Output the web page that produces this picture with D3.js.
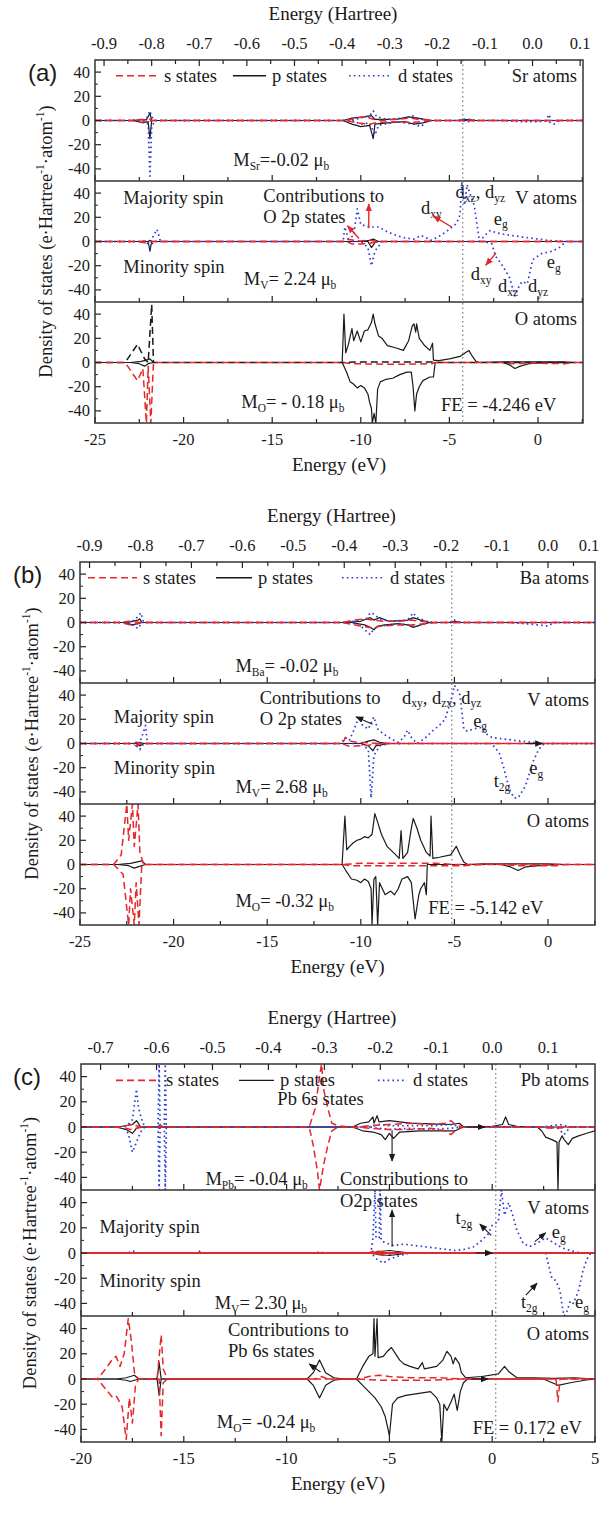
<!DOCTYPE html>
<html>
<head>
<meta charset="utf-8">
<script src="https://cdn.jsdelivr.net/npm/d3@7"></script>
<style>
  body { margin: 0; background: #fff; }
  svg, svg text { font-family: "Liberation Serif", "Times New Roman", "DejaVu Serif", serif; }
  svg text { fill: #1a1a1a; }
</style>
</head>
<body>
<svg id="chart" width="602" height="1517" font-family="Liberation Serif, Times New Roman, serif"></svg>
<script>
const HA = 27.2114; // eV per Hartree

// tick values
const evTicksAB = [-25, -20, -15, -10, -5, 0];
const evTicksC = [-20, -15, -10, -5, 0, 5];
const haTicksAB = [-0.9, -0.8, -0.7, -0.6, -0.5, -0.4, -0.3, -0.2, -0.1, 0.0, 0.1];
const haTicksC = [-0.7, -0.6, -0.5, -0.4, -0.3, -0.2, -0.1, 0.0, 0.1];
const dosTicks = [-40, -20, 0, 20, 40];

// ---------- (a) SrVO3 : [energy (eV), DOS] ----------
const aSrSUp = [[-23,0],[-22.6,1],[-22.2,0.5],[-22,2],[-21.8,0],[-10.8,0],[-10.3,2],[-9.7,3],[-9.3,1],[-8.8,0],[-8,1],[-7.2,2],[-6.8,1],[-6,0]];
const aSrSDn = [[-23,0],[-22.4,-1.5],[-22,-1],[-21.8,0],[-10.8,0],[-10.2,-2],[-9.5,-3],[-9,-1.5],[-8,-1],[-7,-1.5],[-6,0]];
const aSrPUp = [[-22.8,0],[-22.4,1],[-22.1,0.5],[-21.9,6],[-21.8,0],[-11,0],[-10.5,2],[-9.8,3],[-9.4,4],[-9.2,1],[-8,1],[-7.3,3],[-6.8,2],[-6,0],[-4.5,0],[-4.2,1],[-3.8,0.5],[-3.5,0]];
const aSrPDn = [[-22.8,0],[-22.3,-2],[-22,-1],[-21.9,-15],[-21.8,0],[-11,0],[-10.5,-3],[-10,-5],[-9.5,-4],[-9.3,-15],[-9.2,-3],[-8.5,-2],[-7.5,-1],[-7,-3],[-6.5,-2],[-6,0]];
const aSrDUp = [[-22.5,0],[-22.1,1],[-21.9,8],[-21.8,3],[-21.6,0],[-11,0],[-10.3,1],[-9.5,4],[-9.3,8],[-9.1,3],[-8.5,1],[-7.5,2],[-7,4],[-6.8,2],[-6.2,0],[-4.4,0],[-4.2,1],[-3.9,1],[-3.5,0],[0.5,0],[0.6,5],[0.8,0]];
const aSrDDn = [[-22.3,0],[-22,-3],[-21.9,-46],[-21.8,-5],[-21.6,0],[-10.5,0],[-10,-3],[-9.5,-2],[-9.2,-12],[-9,-4],[-8,-1],[-7,-3],[-6.6,-5],[-6.2,0],[-4.3,0],[-4,-1],[-3.5,0],[-2,0],[-1,-1],[0,-1],[0.5,-0.5],[0.9,-3],[1.2,0]];

const aVSUp = [[-22.6,0],[-22.2,0.5],[-21.9,0],[-11,0],[-10.8,2],[-10.4,1],[-10,0.5],[-9.5,1],[-9,0]];
const aVSDn = [[-22.6,0],[-22.2,-1],[-21.9,0],[-10.8,0],[-10.5,-2],[-10,-2],[-9.5,-1.5],[-9,0]];
const aVPUp = [[-22,0],[-21.9,1],[-21.8,0],[-10,0],[-9.5,1],[-9.3,2],[-9,0]];
const aVPDn = [[-22,0],[-21.9,-8],[-21.8,0],[-9.6,0],[-9.4,-5],[-9.2,-1],[-9,0]];
const aVDUp = [[-22.2,0],[-21.9,-2],[-21.7,5],[-21.5,10],[-21.3,0],[-11,0],[-10.9,12],[-10.7,2],[-10.4,5],[-10.2,27],[-10.0,14],[-9.5,12],[-9.0,12],[-8.5,8],[-8.0,5],[-7.5,3],[-7.0,2],[-6.6,5],[-6.3,3],[-6.0,1],[-5.5,5],[-5.0,10],[-4.6,15],[-4.4,22],[-4.3,48],[-4.15,30],[-4.0,47],[-3.8,38],[-3.6,30],[-3.4,10],[-3.3,0],[-3.0,5],[-2.7,9],[-2.3,7],[-1.5,5],[-0.5,3],[0.5,1],[1.5,0]];
const aVDDn = [[-22.1,0],[-21.9,-5],[-21.7,0],[-10,0],[-9.6,-5],[-9.4,-20],[-9.2,-8],[-8.8,0],[-3,0],[-2.6,-2],[-2.4,-12],[-2.0,-20],[-1.6,-30],[-1.3,-45],[-1.1,-38],[-0.9,-33],[-0.6,-35],[-0.3,-15],[0.2,-10],[0.8,-8],[1.2,-5],[1.6,0]];

const aOSUp = [[-23.3,0],[-22.6,15],[-22.2,3],[-22.0,0],[-21.8,48],[-21.7,0],[-11,0],[-10,0.5],[-6,0.5],[-5.8,0]];
const aOSDn = [[-23.3,0],[-22.6,-15],[-22.3,-5],[-22.1,-50],[-22.0,-3],[-21.85,-50],[-21.7,0],[-11,0],[-10.5,-1],[-8,-1.5],[-6,-1],[-5.8,0],[-2,0],[-1.5,-1],[-0.5,-0.5],[1.5,-1],[2,0]];
const aOPUp = [[-23,0],[-22.4,1],[-22.1,2],[-21.9,3],[-21.7,0],[-11.05,0],[-10.95,40],[-10.85,8],[-10.7,15],[-10.5,28],[-10.4,18],[-10.2,26],[-10.0,17],[-9.8,26],[-9.6,27],[-9.4,33],[-9.3,40],[-9.2,32],[-9.0,22],[-8.8,20],[-8.5,14],[-8.0,12],[-7.6,10],[-7.3,18],[-7.1,30],[-7.0,32],[-6.9,25],[-6.85,32],[-6.7,20],[-6.4,14],[-6.1,10],[-5.95,16],[-5.9,2],[-5.6,1.5],[-5.0,3],[-4.4,5],[-4.1,8],[-3.9,10],[-3.7,5],[-3.5,1],[-3.3,0],[-2,0.5],[0,0.5],[1.5,0.5],[2,0]];
const aOPDn = [[-23,0],[-22.5,-1],[-22.2,-3],[-22,-1],[-21.7,0],[-11.05,0],[-10.8,-8],[-10.6,-16],[-10.4,-18],[-10.2,-21],[-10.0,-19],[-9.8,-21],[-9.6,-26],[-9.5,-33],[-9.4,-38],[-9.35,-50],[-9.25,-42],[-9.15,-50],[-9.05,-22],[-8.9,-16],[-8.6,-14],[-8.2,-13],[-7.8,-10],[-7.4,-8],[-7.15,-8],[-7.05,-20],[-6.95,-40],[-6.85,-26],[-6.7,-20],[-6.5,-15],[-6.1,-12],[-5.9,-12],[-5.8,0],[-2,0],[-1.6,-2],[-1.3,-5],[-1.0,-3],[-0.5,-1],[0.5,0]];

// ---------- (b) BaVO3 ----------
const bBaSUp = [[-22.8,0],[-22.4,1],[-22.1,0.5],[-21.8,0],[-11,0],[-10.4,2],[-9.8,3],[-9.3,2],[-8.8,1],[-8,1],[-7.3,2],[-6.8,1],[-6.2,0]];
const bBaSDn = [[-22.8,0],[-22.3,-2],[-22.0,-1],[-21.8,0],[-11,0],[-10.3,-2],[-9.6,-4],[-9.3,-5],[-9,-3],[-8,-2],[-7.3,-2],[-6.5,-1],[-6,0]];
const bBaPUp = [[-22.6,0],[-22.2,1],[-21.9,2],[-21.8,3],[-21.7,0],[-11,0],[-10,1],[-9.5,4],[-9.3,2],[-9.0,4],[-8.5,1],[-7.5,2],[-7.2,4],[-6.8,2],[-6.3,0],[-5.3,0],[-5.0,1],[-4.6,0]];
const bBaPDn = [[-22.6,0],[-22.2,-2],[-21.9,-1],[-21.7,0],[-10.5,0],[-9.8,-2],[-9.5,-4],[-9.3,-6],[-9.1,-3],[-8.7,-2],[-8,-1],[-7.5,-2],[-7.2,-4],[-6.8,-2],[-6.3,0]];
const bBaDUp = [[-22.4,0],[-22.1,2],[-21.9,5],[-21.75,8],[-21.6,0],[-11,0],[-10.3,1],[-9.7,3],[-9.5,8],[-9.3,7],[-9.0,3],[-8.5,1],[-7.5,2],[-7.2,8],[-7.0,4],[-6.5,1],[-6,0],[-5.2,0],[-5,2],[-4.7,0]];
const bBaDDn = [[-22.4,0],[-22.1,-3],[-21.9,-5],[-21.7,0],[-10.5,0],[-10,-3],[-9.5,-10],[-9.3,-5],[-9,-3],[-8,-1],[-7,-3],[-6.5,0],[-2,0],[-1.2,-1],[-0.5,-2],[0,-3],[0.3,0]];

const bVSUp = [[-22.3,0],[-22.0,1],[-21.7,0],[-11,0],[-10.8,5],[-10.6,2],[-10.2,1],[-9.6,0.5],[-9,0]];
const bVSDn = [[-22.3,0],[-22.0,-2],[-21.7,0],[-11,0],[-10.7,-2],[-10.3,-2],[-9.6,-1.5],[-9,0]];
const bVPUp = [[-22,0],[-21.8,1],[-21.6,0],[-10,0],[-9.6,2],[-9.3,3],[-9.0,1],[-8.5,0]];
const bVPDn = [[-22,0],[-21.8,-2],[-21.6,0],[-10,0],[-9.6,-2],[-9.35,-6],[-9.2,-2],[-8.5,0]];
const bVDUp = [[-22.1,0],[-21.8,1],[-21.6,10],[-21.5,15],[-21.4,0],[-11,0],[-10.9,5],[-10.6,3],[-10.4,10],[-10.1,22],[-9.9,15],[-9.6,12],[-9.3,22],[-9.1,12],[-8.8,8],[-8.4,4],[-8.0,1],[-7.7,5],[-7.5,11],[-7.3,5],[-7.0,0],[-6.6,4],[-6.2,10],[-5.8,15],[-5.5,20],[-5.3,30],[-5.1,40],[-5.0,48],[-4.85,45],[-4.7,40],[-4.5,12],[-4.3,10],[-4.0,12],[-3.6,13],[-3.3,8],[-3.0,5],[-2.5,4],[-1.5,2],[-0.8,1],[-0.5,0]];
const bVDDn = [[-22.1,0],[-21.8,-5],[-21.6,0],[-10,0],[-9.6,-5],[-9.45,-45],[-9.3,-10],[-9.0,-2],[-8.5,0],[-3,0],[-2.6,-8],[-2.4,-18],[-2.2,-30],[-2.0,-40],[-1.8,-45],[-1.6,-45],[-1.4,-40],[-1.2,-35],[-1.0,-25],[-0.8,-15],[-0.5,-5],[-0.2,0]];

const bOSUp = [[-23.2,0],[-22.8,8],[-22.5,50],[-22.4,20],[-22.2,50],[-22.1,15],[-21.9,50],[-21.8,10],[-21.6,0],[-11,0],[-10,1],[-6,1],[-5,0]];
const bOSDn = [[-23.2,0],[-22.7,-8],[-22.4,-50],[-22.3,-20],[-22.1,-50],[-22.0,-15],[-21.85,-50],[-21.7,0],[-11,0],[-10.5,-1],[-8,-1],[-6,-1],[-4.5,-1],[-3,0.5],[-1.5,-1],[0.5,-1],[1,0]];
const bOPUp = [[-23,0],[-22.3,1],[-22.0,2],[-21.7,3],[-21.5,0],[-11.0,0],[-10.85,40],[-10.75,12],[-10.6,15],[-10.4,18],[-10.2,20],[-10.0,21],[-9.8,23],[-9.6,22],[-9.4,25],[-9.25,42],[-9.1,35],[-8.9,25],[-8.6,15],[-8.2,9],[-7.95,5],[-7.85,28],[-7.75,5],[-7.5,10],[-7.3,30],[-7.2,38],[-7.0,30],[-6.8,20],[-6.5,10],[-6.3,7],[-6.25,40],[-6.15,5],[-5.8,6],[-5.2,8],[-4.9,15],[-4.7,8],[-4.5,2],[-4.3,0],[-3.5,0.5],[-2,0.5],[0,0.5],[1,0]];
const bOPDn = [[-23,0],[-22.4,-1],[-22.1,-3],[-21.9,-2],[-21.5,0],[-11.0,0],[-10.8,-5],[-10.5,-12],[-10.2,-13],[-10.0,-15],[-9.8,-12],[-9.6,-14],[-9.45,-20],[-9.4,-50],[-9.3,-12],[-9.2,-10],[-9.1,-50],[-9.0,-15],[-8.7,-25],[-8.4,-22],[-8.2,-25],[-8.0,-20],[-7.8,-12],[-7.5,-10],[-7.3,-15],[-7.1,-45],[-6.9,-25],[-6.8,-20],[-6.6,-15],[-6.5,-25],[-6.45,0],[-2.5,0],[-2,-2],[-1.6,-5],[-1.2,-2],[-0.5,-1],[0.5,0]];

// ---------- (c) PbVO3 ----------
const cPbSUp = [[-18,0],[-17.6,2],[-17.3,1],[-17,0],[-16.2,0],[-16.1,1],[-16.0,0],[-8.9,0],[-8.6,15],[-8.4,40],[-8.3,50],[-8.2,30],[-8.0,15],[-7.8,3],[-7.5,1],[-7,0],[-6.5,0],[-6,1],[-5,2],[-4,3],[-3,2],[-2.3,3],[-2,5],[-1.8,2],[-1.5,0]];
const cPbSDn = [[-18,0],[-17.6,-2],[-17.3,-1],[-17,0],[-8.9,0],[-8.7,-15],[-8.5,-35],[-8.4,-50],[-8.2,-30],[-8.0,-15],[-7.8,-3],[-7.5,0],[-6.5,0],[-6,-1],[-5,-2],[-4,-2],[-3,-1],[-2.3,-3],[-2,-6],[-1.8,-3],[-1.5,0],[2,0],[3,-1],[4,0]];
const cPbPUp = [[-18.3,0],[-17.8,1],[-17.5,2],[-17.3,5],[-17.1,0],[-16.3,0],[-16.2,1],[-16.1,0],[-6.8,0],[-6.4,3],[-6.0,4],[-5.8,8],[-5.75,3],[-5.6,9],[-5.5,4],[-5.0,5],[-4.5,4],[-4,3],[-3,2.5],[-2,2],[-1.6,3],[-1.4,0],[0,0.5],[0.5,2],[0.65,8],[0.8,2],[1.2,0.5],[2,0]];
const cPbPDn = [[-18.3,0],[-17.8,-2],[-17.5,-5],[-17.3,-1],[-17.1,0],[-16.3,0],[-16.2,-1],[-16.1,0],[-6.8,0],[-6.3,-3],[-5.8,-4],[-5.4,-6],[-5.2,-10],[-5.0,-5],[-4.8,-9],[-4.5,-4],[-3.5,-3],[-2.5,-3],[-1.8,-3],[-1.4,0],[2.2,0],[2.4,-3],[2.6,-8],[2.9,-10],[3.15,-12],[3.2,-50],[3.25,-12],[3.4,-7],[3.5,-10],[3.7,-14],[3.9,-9],[4.2,-7],[4.6,-5],[5,-3]];
const cPbDUp = [[-18,0],[-17.7,2],[-17.5,6],[-17.3,30],[-17.2,15],[-17.0,3],[-16.8,0],[-16.25,0],[-16.2,50],[-16.15,0],[-15.95,0],[-15.9,50],[-15.85,0],[-6,0],[-5.5,2],[-5,1],[-3,1],[-2,2],[-1.5,0],[2.5,0],[3.3,2],[3.8,0]];
const cPbDDn = [[-18,0],[-17.7,-5],[-17.5,-20],[-17.3,-12],[-17.1,-4],[-16.9,0],[-16.25,0],[-16.2,-50],[-16.15,0],[-15.95,0],[-15.9,-50],[-15.85,0],[-6,0],[-5.5,-1],[-5,-2],[-4,-1],[-3,-2],[-2,-1],[-1.5,0],[2.5,0],[3.2,-1],[3.5,-6],[3.8,0]];

const cVSUp = [[-6,0],[-5.7,2],[-5.4,1],[-5,0]];
const cVSDn = [[-6,0],[-5.6,-1],[-5.2,-2],[-4.8,0]];
const cVPUp = [[-6,0],[-5.6,1],[-5,2],[-4.5,1],[-4,0]];
const cVPDn = [[-6,0],[-5.6,-1],[-5,-2],[-4.5,-1],[-4,0]];
const cVDUp = [[-17.7,0],[-17.5,2],[-17.3,0],[-14.3,0],[-14.2,2],[-14.1,0],[-8.6,0],[-8.4,1],[-8.2,0],[-5.9,0],[-5.8,12],[-5.7,50],[-5.65,12],[-5.5,12],[-5.45,50],[-5.4,10],[-5.2,8],[-4.8,6],[-4.3,7],[-3.8,6],[-3.3,5],[-2.8,4],[-2.3,3],[-1.8,2],[-1.3,3],[-0.9,5],[-0.5,10],[-0.2,15],[0.0,22],[0.3,25],[0.45,50],[0.6,30],[0.8,40],[1.0,30],[1.2,18],[1.5,8],[1.8,5],[2.2,8],[2.6,12],[3.0,8],[3.4,4],[3.8,2],[4.3,0]];
const cVDDn = [[-5.9,0],[-5.6,-5],[-5.3,-8],[-5.0,-5],[-4.5,-2],[-4,0],[2.6,0],[2.75,-10],[2.9,-20],[3.1,-22],[3.3,-30],[3.4,-42],[3.5,-50],[3.6,-48],[3.8,-38],[3.95,-40],[4.2,-30],[4.4,-15],[4.6,-5],[4.8,0]];

const cOSUp = [[-19.2,0],[-18.8,8],[-18.5,15],[-18.3,18],[-18.1,10],[-17.9,20],[-17.7,48],[-17.55,30],[-17.4,5],[-17.2,0],[-16.3,0],[-16.1,35],[-16.0,8],[-15.8,0],[-8.6,0],[-8.3,2],[-8,0],[-6.5,0],[-6,2],[-5.5,3],[-5,2],[-4,1],[-2.5,1],[-1.5,0]];
const cOSDn = [[-19.2,0],[-18.8,-8],[-18.5,-14],[-18.3,-13],[-18.0,-22],[-17.8,-48],[-17.65,-15],[-17.5,-35],[-17.35,-5],[-17.2,0],[-16.2,0],[-16.1,-45],[-16.0,-3],[-15.8,0],[-6.5,0],[-5.5,-1],[-3,-1],[-1.5,0],[3.1,0],[3.2,-18],[3.3,0]];
const cOPUp = [[-18.3,0],[-17.8,1],[-17.6,2],[-17.4,3],[-17.2,0],[-16.3,0],[-16.2,13],[-16.1,0],[-9,0],[-8.7,5],[-8.4,15],[-8.1,5],[-7.7,1],[-7.2,0],[-6.6,0],[-6.3,10],[-6.0,18],[-5.8,20],[-5.75,48],[-5.7,18],[-5.6,48],[-5.55,17],[-5.3,18],[-5.1,22],[-4.9,25],[-4.7,20],[-4.5,15],[-4.3,12],[-4.0,10],[-3.6,8],[-3.4,13],[-3.3,8],[-3.0,9],[-2.7,10],[-2.4,15],[-2.2,22],[-2.0,18],[-1.9,12],[-1.8,17],[-1.6,12],[-1.5,5],[-1.3,1],[-0.5,2],[0.3,4],[0.6,10],[0.8,6],[1.2,1],[2,1],[3,0.5],[4,1],[5,0]];
const cOPDn = [[-18.3,0],[-17.8,-1],[-17.6,-2],[-17.4,-1],[-17.2,0],[-16.3,0],[-16.2,-13],[-16.1,0],[-9,0],[-8.7,-5],[-8.4,-15],[-8.1,-5],[-7.7,-1],[-7.2,0],[-6.6,0],[-6.3,-5],[-6.0,-10],[-5.7,-15],[-5.4,-22],[-5.2,-30],[-5.0,-45],[-4.85,-20],[-4.6,-15],[-4.2,-13],[-3.8,-12],[-3.4,-11],[-3.0,-10],[-2.7,-15],[-2.55,-20],[-2.45,-50],[-2.35,-20],[-2.2,-25],[-2.0,-18],[-1.85,-12],[-1.7,-25],[-1.55,-10],[-1.4,-3],[-1.2,0],[2.5,0],[3.2,-5],[3.8,-3],[4.5,-1],[5,0]];

// ---------- layout ----------
const COLORS = { s: "#e5262b", p: "#1a1a1a", d: "#2b3bd8", red: "#e5262b" };
const SERIF = "'Liberation Serif', 'Times New Roman', 'DejaVu Serif', serif";
const FS = 18.5; // annotation font size

const panels = [
  {
    tag: "(a)", tagX: 28, ylabX: 52,
    left: 95, right: 583, top: 60, subH: 121,
    eV: [-25, 2.54], ha: [-0.919, 0.106], evTicks: evTicksAB, haTicks: haTicksAB,
    fe: -4.246, legendX: [116, 164, 233, 272, 349, 398], legendDos: 37,
    subs: [
      { atom: "Sr atoms", s: [aSrSUp, aSrSDn], p: [aSrPUp, aSrPDn], d: [aSrDUp, aSrDDn],
        texts: [["M_{Sr}=-0.02  μ_{b}", -17.2, -33]] },
      { atom: "V atoms", s: [aVSUp, aVSDn], p: [aVPUp, aVPDn], d: [aVDUp, aVDDn],
        texts: [["Majority spin", -23.4, 36], ["Contributions to", -15.5, 38], ["O 2p states", -15.5, 20],
                ["d_{xy}", -6.6, 28], ["d_{xz}, d_{yz}", -4.65, 41], ["e_{g}", -2.5, 19],
                ["Minority spin", -23.4, -21], ["M_{V}= 2.24  μ_{b}", -16.6, -31],
                ["d_{xy}", -3.8, -27], ["d_{xz}", -2.25, -37], ["d_{yz}", -0.56, -37], ["e_{g}", 0.5, -17]],
        arrows: [["red", -10.1, 2.5, -10.75, 13], ["red", -9.55, 11, -9.55, 31], ["red", -4.87, 12, -5.9, 21], ["red", -2.37, -9.7, -2.95, -19.5]] },
      { atom: "O atoms", s: [aOSUp, aOSDn], p: [aOPUp, aOPDn], d: null, sUpColor: "#1a1a1a",
        texts: [["M_{O}= - 0.18  μ_{b}", -16.75, -33], ["FE = -4.246  eV", -5.47, -35]] }
    ]
  },
  {
    tag: "(b)", tagX: 13, ylabX: 38,
    left: 80, right: 595, top: 562, subH: 121,
    eV: [-25, 2.51], ha: null, evTicks: evTicksAB, haTicks: haTicksAB,
    fe: -5.142, legendX: [88, 143, 216, 258, 342, 390], legendDos: 37,
    subs: [
      { atom: "Ba atoms", s: [bBaSUp, bBaSDn], p: [bBaPUp, bBaPDn], d: [bBaDUp, bBaDDn],
        texts: [["M_{Ba}= -0.02  μ_{b}", -16.7, -36]] },
      { atom: "V atoms", s: [bVSUp, bVSDn], p: [bVPUp, bVPDn], d: [bVDUp, bVDDn],
        texts: [["Contributions to", -15.4, 38], ["O 2p states", -15.4, 20], ["d_{xy}, d_{zx}, d_{yz}", -7.8, 38],
                ["Majority spin", -23.2, 22], ["e_{g}", -4.0, 19], ["Minority spin", -23.2, -20],
                ["M_{V}=  2.68  μ_{b}", -16.7, -36], ["e_{g}", -1.0, -20], ["t_{2g}", -2.9, -31]],
        arrows: [["black", -9.37, 16, -10.25, 22], ["black", -1.2, 0, -0.3, 0]] },
      { atom: "O atoms", s: [bOSUp, bOSDn], p: [bOPUp, bOPDn], d: null,
        texts: [["M_{O}= -0.32  μ_{b}", -16.7, -30], ["FE = -5.142 eV", -6.4, -36]] }
    ]
  },
  {
    tag: "(c)", tagX: 13, ylabX: 36,
    left: 81, right: 595, top: 1064, subH: 126,
    eV: [-20, 5], ha: null, evTicks: evTicksC, haTicks: haTicksC,
    fe: 0.172, legendX: [116, 166, 239, 280, 378, 413], legendDos: 37,
    subs: [
      { atom: "Pb atoms", s: [cPbSUp, cPbSDn], p: [cPbPUp, cPbPDn], d: [cPbDUp, cPbDDn],
        texts: [["Pb 6s states", -10.45, 22], ["M_{Pb}= -0.04  μ_{b}", -13.95, -41], ["Constributions to", -7.4, -41]],
        arrows: [["black", -4.87, -2.5, -4.87, -27], ["black", -1.2, 0, -0.35, 0]] },
      { atom: "V atoms", s: [cVSUp, cVSDn], p: [cVPUp, cVPDn], d: [cVDUp, cVDDn], redBase: true,
        texts: [["O2p states", -7.4, 41], ["Majority spin", -19.1, 21], ["t_{2g}", -1.78, 28], ["e_{g}", 2.9, 17],
                ["Minority spin", -19.1, -22], ["M_{V}= 2.30  μ_{b}", -13.5, -40], ["t_{2g}", 1.4, -39], ["e_{g}", 4.03, -39]],
        arrows: [["black", -4.87, 5, -4.87, 34], ["black", -0.05, 14, -0.6, 23], ["black", 2.07, 9, 2.6, 16],
                 ["black", 1.64, -33.5, 2.18, -24], ["black", -0.8, 0, 0.0, 0]] },
      { atom: "O atoms", s: [cOSUp, cOSDn], p: [cOPUp, cOPDn], d: null,
        texts: [["Contributions to", -12.85, 39], ["Pb 6s states", -12.85, 22], ["M_{O}= -0.24  μ_{b}", -13.4, -34.5],
                ["FE = 0.172 eV", -0.95, -39]],
        arrows: [["black", -8.35, 5.5, -8.9, 12], ["black", -1.0, 0, -0.2, 0]] }
    ]
  }
];

const W = 602;
const svg = d3.select("#chart").style("font-family", SERIF);

// arrow heads
const defs = svg.append("defs");
[["red", COLORS.red], ["black", "#1a1a1a"]].forEach(([id, col]) => {
  defs.append("marker")
    .attr("id", "arr-" + id)
    .attr("viewBox", "0 0 10 10")
    .attr("refX", 9).attr("refY", 5)
    .attr("markerWidth", 8).attr("markerHeight", 8)
    .attr("markerUnits", "userSpaceOnUse")
    .attr("orient", "auto")
    .append("path").attr("d", "M0,1 L10,5 L0,9 Z").attr("fill", col);
});

// text with _{sub} and ^{sup}
function richText(sel, str, size) {
  const re = /([_^])\{([^}]*)\}/g;
  let last = 0, m, offset = 0;
  const add = (t, lvl) => {
    const target = lvl === 1 ? size * 0.32 : lvl === -1 ? -size * 0.42 : 0;
    sel.append("tspan")
      .attr("dy", (target - offset) || null)
      .attr("font-size", lvl ? size * 0.62 : null)
      .text(t);
    offset = target;
  };
  while ((m = re.exec(str))) {
    if (m.index > last) add(str.slice(last, m.index), 0);
    add(m[2], m[1] === "_" ? 1 : -1);
    last = re.lastIndex;
  }
  if (last < str.length) add(str.slice(last), 0);
}

// serif text helper
const label = (g, xx, yy, size) => g.append("text")
  .attr("x", xx).attr("y", yy)
  .attr("font-size", size)
  .style("font-family", SERIF);

const fmtHa = v => (Math.abs(v) < 1e-9 ? 0 : v).toFixed(1);

panels.forEach((P, pi) => {
  const g = svg.append("g");
  const x = d3.scaleLinear().domain(P.eV).range([P.left, P.right]);
  const haDom = P.ha || [P.eV[0] / HA, P.eV[1] / HA];
  const xh = d3.scaleLinear().domain(haDom).range([P.left, P.right]);
  const bottom = P.top + 3 * P.subH;

  P.subs.forEach((S, si) => {
    const y0 = P.top + si * P.subH;
    const y = d3.scaleLinear().domain([-50, 50]).range([y0 + P.subH, y0]);
    const clipId = `clip-${pi}-${si}`;
    defs.append("clipPath").attr("id", clipId)
      .append("rect").attr("x", P.left).attr("y", y0).attr("width", P.right - P.left).attr("height", P.subH);

    const line = d3.line().x(d => x(d[0])).y(d => y(d[1]));
    const pad = pts => [[P.eV[0], 0], ...pts, [P.eV[1], 0]];
    const cg = g.append("g").attr("clip-path", `url(#${clipId})`).attr("fill", "none");

    const draw = (pts, color, dash, w) => cg.append("path")
      .attr("d", line(pad(pts)))
      .attr("stroke", color).attr("stroke-width", w)
      .attr("stroke-dasharray", dash).attr("stroke-linejoin", "round");

    if (S.p) S.p.forEach(pts => draw(pts, COLORS.p, null, 1.2));
    if (S.d) S.d.forEach(pts => draw(pts, COLORS.d, "1.6,3.2", 1.7));
    if (S.s) {
      draw(S.s[0], S.sUpColor || COLORS.s, "7,4", 1.5);
      draw(S.s[1], COLORS.s, "7,4", 1.5);
    }
    if (S.redBase) {
      cg.append("line").attr("x1", P.left).attr("x2", P.right)
        .attr("y1", y(0)).attr("y2", y(0))
        .attr("stroke", COLORS.red).attr("stroke-width", 1.8);
    }

    // left ticks (inward) + labels
    dosTicks.forEach(v => {
      g.append("line").attr("x1", P.left).attr("x2", P.left + 6)
        .attr("y1", y(v)).attr("y2", y(v)).attr("stroke", "#222").attr("stroke-width", 1.2);
      label(g, P.left - 5, y(v), 16.5)
        .attr("text-anchor", "end").attr("dominant-baseline", "central").text(v);
    });
    [-30, -10, 10, 30].forEach(v => {
      g.append("line").attr("x1", P.left).attr("x2", P.left + 3)
        .attr("y1", y(v)).attr("y2", y(v)).attr("stroke", "#222").attr("stroke-width", 1);
    });

    // bottom ticks of the sub-plot (inward)
    const yb = y0 + P.subH;
    d3.range(Math.ceil(P.eV[0] / 2.5) * 2.5, P.eV[1] + 1e-6, 2.5).forEach(v => {
      const major = Math.abs(v % 5) < 1e-6;
      g.append("line").attr("x1", x(v)).attr("x2", x(v))
        .attr("y1", yb).attr("y2", yb - (major ? 6 : 4))
        .attr("stroke", "#222").attr("stroke-width", 1.2);
    });

    // atom label
    label(g, P.right - 6, y(si === 0 ? P.legendDos : 36), FS)
      .attr("text-anchor", "end").attr("dominant-baseline", "central").text(S.atom);

    // annotations
    (S.texts || []).forEach(([t, e, v]) => {
      const tx = label(g, x(e), y(v), FS).attr("dominant-baseline", "central");
      richText(tx, t, FS);
    });
    (S.arrows || []).forEach(([col, e1, v1, e2, v2]) => {
      g.append("line")
        .attr("x1", x(e1)).attr("y1", y(v1)).attr("x2", x(e2)).attr("y2", y(v2))
        .attr("stroke", col === "red" ? COLORS.red : "#1a1a1a")
        .attr("stroke-width", col === "red" ? 1.4 : 1.1)
        .attr("marker-end", `url(#arr-${col})`);
    });

    // legend in the first sub-plot
    if (si === 0) {
      const ly = y(P.legendDos);
      const L = P.legendX;
      const items = [
        [L[0], L[1], COLORS.s, "7,4", 1.6, "s states"],
        [L[2], L[3], COLORS.p, null, 1.3, "p states"],
        [L[4], L[5], COLORS.d, "1.6,3.2", 1.7, "d states"]
      ];
      items.forEach(([x1, tx, col, dash, w, name]) => {
        g.append("line").attr("x1", x1).attr("x2", tx - 6).attr("y1", ly).attr("y2", ly)
          .attr("stroke", col).attr("stroke-width", w).attr("stroke-dasharray", dash);
        label(g, tx, ly, FS).attr("dominant-baseline", "central").text(name);
      });
    }

    // divider
    if (si > 0) {
      g.append("line").attr("x1", P.left).attr("x2", P.right).attr("y1", y0).attr("y2", y0)
        .attr("stroke", "#333").attr("stroke-width", 1.5);
    }
  });

  // Fermi energy
  g.append("line").attr("x1", x(P.fe)).attr("x2", x(P.fe)).attr("y1", P.top).attr("y2", bottom)
    .attr("stroke", "#777").attr("stroke-width", 1.2).attr("stroke-dasharray", "1.5,3");

  // frame
  g.append("rect").attr("x", P.left).attr("y", P.top)
    .attr("width", P.right - P.left).attr("height", bottom - P.top)
    .attr("fill", "none").attr("stroke", "#333").attr("stroke-width", 1.5);

  // bottom eV labels
  P.evTicks.forEach(v => {
    label(g, x(v), bottom + 22, 16.5).attr("text-anchor", "middle").text(v);
  });
  label(g, (P.left + P.right) / 2, bottom + 48, 19).attr("text-anchor", "middle").text("Energy (eV)");

  // top Hartree axis
  P.haTicks.forEach(v => {
    const px = xh(v);
    if (px > P.left && px < P.right) {
      g.append("line").attr("x1", px).attr("x2", px).attr("y1", P.top).attr("y2", P.top + 6)
        .attr("stroke", "#222").attr("stroke-width", 1.2);
    }
    const pm = xh(v + 0.05);
    if (pm > P.left && pm < P.right) {
      g.append("line").attr("x1", pm).attr("x2", pm).attr("y1", P.top).attr("y2", P.top + 4)
        .attr("stroke", "#222").attr("stroke-width", 1.2);
    }
    label(g, Math.min(px, W - 13), P.top - 11, 16.5).attr("text-anchor", "middle").text(fmtHa(v));
  });
  label(g, (P.left + P.right) / 2 - 6, P.top - 40, 19).attr("text-anchor", "middle").text("Energy (Hartree)");

  // panel tag
  g.append("text").attr("x", P.tagX).attr("y", P.top + 21)
    .attr("font-size", 24).style("font-family", "'Liberation Sans', Arial, sans-serif").text(P.tag);

  // y-axis label
  const yl = label(g, 0, 0, 18.5)
    .attr("transform", `translate(${P.ylabX},${(P.top + bottom) / 2}) rotate(-90)`)
    .attr("text-anchor", "middle");
  richText(yl, "Density of states (e·Hartree^{-1}·atom^{-1})", 18.5);
});
</script>
</body>
</html>
